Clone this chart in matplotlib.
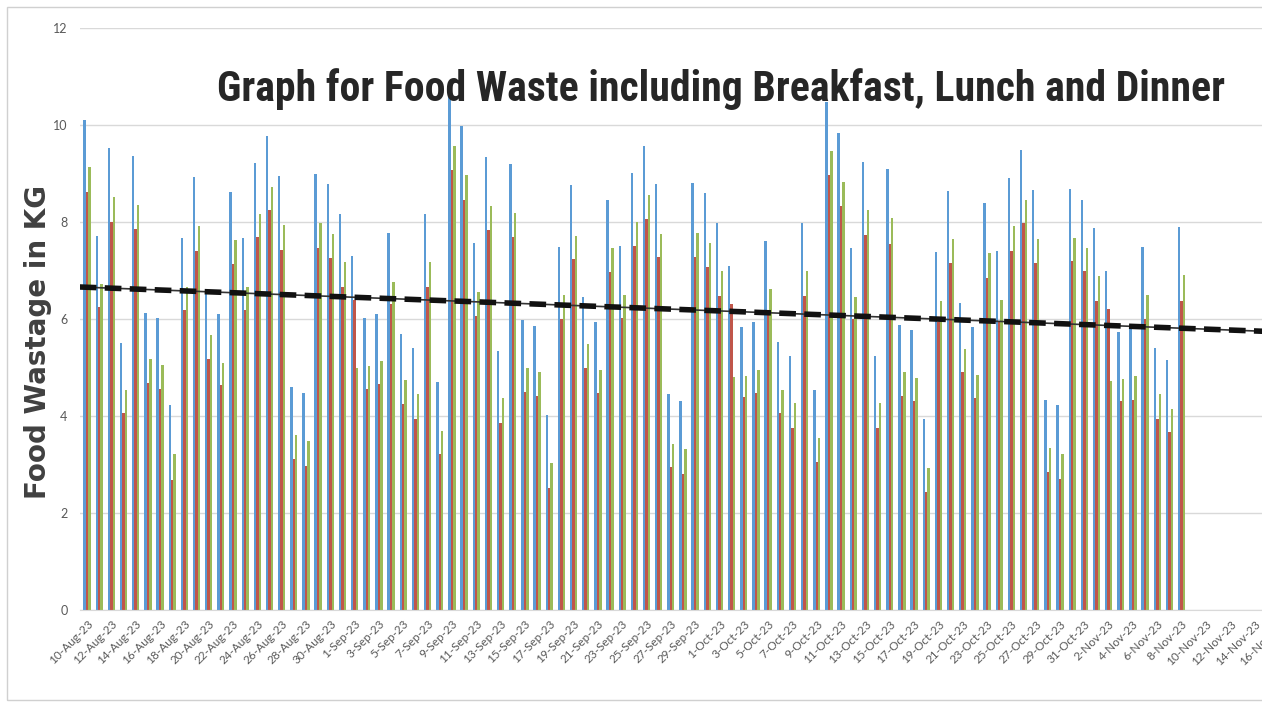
import matplotlib
matplotlib.use("Agg")
import matplotlib.pyplot as plt
from matplotlib import font_manager as fm
from matplotlib.patches import Rectangle
import numpy as np
import pandas as pd

# ---------------- data ----------------
start_date = "2023-08-10"
series_blue = [10.1, 7.72, 9.53, 5.5, 9.37, 6.13, 6.03, 4.22, 7.68, 8.92,
               6.62, 6.1, 8.61, 7.67, 9.21, 9.78, 8.94, 4.6, 4.48, 8.99,
               8.79, 8.17, 7.29, 6.03, 6.1, 7.78, 5.7, 5.41, 8.17, 4.71,
               10.6, 9.98, 7.57, 9.33, 5.33, 9.19, 5.98, 5.86, 4.03, 7.48,
               8.76, 6.46, 5.93, 8.46, 7.5, 9.01, 9.57, 8.78, 4.45, 4.31,
               8.81, 8.59, 7.98, 7.1, 5.84, 5.93, 7.61, 5.52, 5.24, 7.98,
               4.53, 10.48, 9.84, 7.46, 9.24, 5.24, 9.09, 5.88, 5.77, 3.94,
               7.39, 8.64, 6.34, 5.83, 8.39, 7.41, 8.91, 9.48, 8.67, 4.34,
               4.22, 8.69, 8.45, 7.88, 7.0, 5.74, 5.81, 7.48, 5.41, 5.15,
               7.9]
series_red = [8.62, 6.24, 8.0, 4.06, 7.86, 4.69, 4.55, 2.69, 6.19, 7.41,
              5.17, 4.63, 7.14, 6.19, 7.69, 8.24, 7.43, 3.12, 2.97, 7.47,
              7.26, 6.66, 6.4, 4.55, 4.66, 6.31, 4.24, 3.93, 6.67, 3.22,
              9.08, 8.46, 6.07, 7.83, 3.86, 7.69, 4.5, 4.41, 2.52, 6.01,
              7.24, 4.99, 4.47, 6.97, 6.03, 7.5, 8.06, 7.27, 2.95, 2.81,
              7.28, 7.08, 6.48, 6.31, 4.39, 4.48, 6.1, 4.06, 3.76, 6.48,
              3.06, 8.97, 8.34, 6.0, 7.74, 3.76, 7.55, 4.41, 4.3, 2.43,
              5.93, 7.16, 4.9, 4.38, 6.84, 5.95, 7.41, 7.97, 7.15, 2.85,
              2.7, 7.19, 6.99, 6.37, 6.21, 4.3, 4.34, 6.0, 3.94, 3.66,
              6.38]
series_green = [9.14, 6.72, 8.52, 4.54, 8.36, 5.17, 5.05, 3.21, 6.67, 7.91,
                5.66, 5.1, 7.63, 6.67, 8.17, 8.72, 7.93, 3.61, 3.48, 7.97,
                7.76, 7.17, 5.0, 5.03, 5.14, 6.77, 4.74, 4.45, 7.17, 3.7,
                9.57, 8.97, 6.55, 8.34, 4.37, 8.19, 5.0, 4.9, 3.03, 6.5,
                7.72, 5.48, 4.94, 7.46, 6.5, 8.01, 8.55, 7.76, 3.43, 3.31,
                7.78, 7.57, 6.98, 4.81, 4.83, 4.94, 6.62, 4.54, 4.26, 7.0,
                3.55, 9.46, 8.83, 6.45, 8.24, 4.26, 8.08, 4.9, 4.78, 2.93,
                6.38, 7.64, 5.39, 4.85, 7.36, 6.4, 7.91, 8.45, 7.64, 3.33,
                3.21, 7.68, 7.47, 6.88, 4.72, 4.76, 4.83, 6.5, 4.45, 4.14,
                6.9]
# trend line end points (day index, kg)
trend_x = [-0.6, 98.5]
trend_y = [6.66, 5.73]
trend_base_y = [6.57, 5.65]

tick_dates = pd.date_range(start_date, periods=50, freq="2D")
tick_labels = [f"{d.day}-{d.strftime('%b')}-23" for d in tick_dates]
tick_pos = [(d - pd.Timestamp(start_date)).days for d in tick_dates]

title_text = "Graph for Food Waste including Breakfast, Lunch and Dinner"
ylabel_text = "Food Wastage in KG"

# ---------------- fonts ----------------
names = {f.name for f in fm.fontManager.ttflist}
title_font = None
title_stretch = "normal"
for cand in ["Liberation Sans Narrow", "DejaVu Sans Condensed", "Roboto Condensed",
             "Open Sans Condensed", "Noto Sans Condensed", "Lato"]:
    if cand in names:
        title_font = cand
        break
if title_font is None:
    title_font = "DejaVu Sans"
small_font = "Lato" if "Lato" in names else "DejaVu Sans"

# ---------------- figure ----------------
W, H = 1262, 703
fig = plt.figure(figsize=(W / 100, H / 100), dpi=100)
fig.patch.set_facecolor("white")

x0_px, x_right_px = 80, 1285
ax = fig.add_axes([x0_px / W, 93 / H, (x_right_px - x0_px) / W, 582 / H])
ax.set_xlim(-0.58, 98.5)
ax.set_ylim(0, 12)

days = np.arange(len(series_blue))
bw = 0.2
ax.bar(days - bw, series_blue, width=bw, color="#5b9bd5", linewidth=0, zorder=2)
ax.bar(days, series_red, width=bw, color="#c0564a", linewidth=0, zorder=2)
ax.bar(days + bw, series_green, width=bw, color="#9bbb59", linewidth=0, zorder=2)

ax.plot(trend_x, trend_y, color="#333333", lw=1.2, zorder=3)
ax.plot(trend_x, trend_y, color="#111111", lw=4, dashes=(3, 1.5),
        solid_capstyle="butt", dash_capstyle="butt", zorder=4)

ax.set_yticks(range(0, 13, 2))
ax.yaxis.grid(True, color="#d9d9d9", lw=1)
ax.set_axisbelow(True)
for s in ["left", "right", "top"]:
    ax.spines[s].set_visible(False)
ax.spines["bottom"].set_color("#d9d9d9")
ax.tick_params(axis="y", length=0, pad=9, labelsize=9, labelcolor="#595959")
for lab in ax.get_yticklabels():
    lab.set_fontfamily(small_font)

ax.set_xticks(tick_pos)
ax.set_xticklabels(tick_labels, rotation=45, ha="right", rotation_mode="anchor",
                   fontsize=8.5, color="#595959", family=small_font)
ax.tick_params(axis="x", length=0, pad=6)

fig.text(38 / W, 1 - 342 / H, ylabel_text, rotation=90, ha="center", va="center",
         fontsize=20, fontweight="bold", color="#404040", family="DejaVu Sans")

t = fig.text(721 / W, 1 - 101 / H, title_text, ha="center", va="baseline",
             fontsize=36, fontweight="bold", color="#262626", family=title_font)
fig.canvas.draw()
r = fig.canvas.get_renderer()
wpx = t.get_window_extent(r).width
t.set_fontsize(36 * 1007 / wpx)

fig.add_artist(Rectangle((7 / W, 3 / H), 1.0, 693 / H, transform=fig.transFigure,
                         fill=False, ec="#d0d0d0", lw=1))

fig.savefig("out.png", dpi=100)
